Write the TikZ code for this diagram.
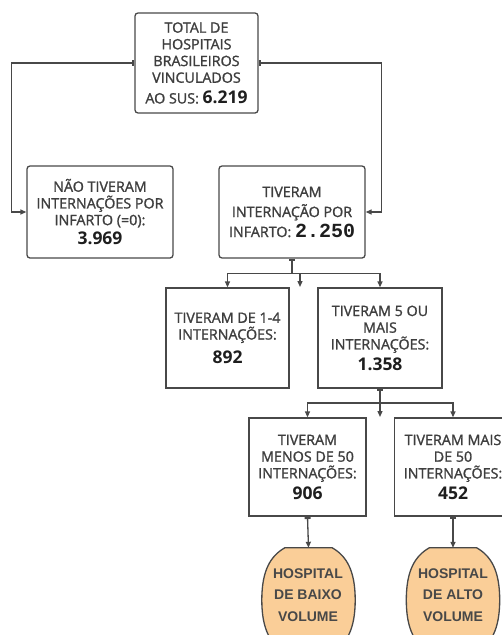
\documentclass[tikz,border=0pt]{standalone}
\usepackage{fontspec}
\setmainfont{Open Sans}
\newfontfamily\boxfont{Open Sans}[FakeBold=1.4]
\newfontfamily\monofont{Liberation Mono}
\newfontfamily\arialfont{Liberation Sans}
\usetikzlibrary{positioning,arrows.meta}
\definecolor{mygray}{RGB}{72,72,72}
\definecolor{mytext}{RGB}{62,62,62}
\definecolor{mynum}{RGB}{30,30,30}
\definecolor{myorange}{RGB}{250,206,152}

\newcommand{\bignum}[1]{{\normalfont\color{mynum}\fontsize{17.5}{17}\selectfont\bfseries #1}}

\begin{document}
\begin{tikzpicture}[x=1pt,y=-1pt,
  box/.style={draw=mygray,line width=1.3pt,rounded corners=3pt,align=center,
    text=mytext,font=\boxfont\fontsize{14.3}{16.7}\selectfont,inner sep=2pt},
  sbox/.style={box,sharp corners},
  link/.style={draw=mygray,line width=1.3pt,-{Triangle[length=6pt,width=5pt]}},
  tlink/.style={link,{Bar[width=6pt,line width=2.4pt]}-{Triangle[length=6pt,width=5pt]}},
  tline/.style={draw=mygray,line width=1.3pt,{Bar[width=6pt,line width=2.4pt]}-},
  volbox/.style={minimum width=93pt,minimum height=104pt,inner sep=0pt},
  volshape/.style={draw=mygray,line width=1.3pt,fill=myorange},
  voltext/.style={align=center,text=mygray,font=\arialfont\bfseries\fontsize{14}{21.5}\selectfont}]

  \useasboundingbox (0,0) rectangle (502,635);
  \clip (0,0) rectangle (502,635);

  \node[box,minimum width=123pt,minimum height=100pt] (total) at (196.5,63)
    {TOTAL DE\\HOSPITAIS\\BRASILEIROS\\VINCULADOS\\[4pt]AO SUS: \bignum{6.219}};

  \node[box,minimum width=146pt,minimum height=92pt] (nao) at (100,212)
    {NÃO TIVERAM\\INTERNAÇÕES POR\\INFARTO (=0):\\[3pt]\bignum{3.969}};
  \node[box,minimum width=146pt,minimum height=92pt,font=\boxfont\fontsize{14.3}{20}\selectfont] (sim) at (292,212)
    {TIVERAM\\INTERNAÇÃO POR\\INFARTO: {\color{mynum}\monofont\bfseries\fontsize{20}{20}\selectfont 2.250}};

  \node[sbox,minimum width=123pt,minimum height=100pt] (um) at (227.5,338)
    {TIVERAM DE 1-4\\INTERNAÇÕES:\\[7pt]\bignum{892}};
  \node[sbox,minimum width=124pt,minimum height=100pt] (cinco) at (380,338)
    {TIVERAM 5 OU\\MAIS\\INTERNAÇÕES:\\[4pt]\bignum{1.358}};

  \node[sbox,minimum width=117pt,minimum height=98pt] (menos) at (307.5,467)
    {TIVERAM\\MENOS DE 50\\INTERNAÇÕES:\\[4pt]\bignum{906}};
  \node[sbox,minimum width=117pt,minimum height=98pt] (mais) at (453,467)
    {TIVERAM MAIS\\DE 50\\INTERNAÇÕES:\\[4pt]\bignum{452}};

  % volume classes
  \node[volbox] (baixo) at (308.5,600) {};
  \node[volbox] (alto) at (453,600) {};
  \foreach \v in {baixo,alto}
    \draw[volshape] ([xshift=23pt]\v.north west) -- ([xshift=-23pt]\v.north east)
      .. controls +(14,8) and +(0,-30) .. (\v.east)
      .. controls +(0,30) and +(14,-8) .. ([xshift=-23pt]\v.south east)
      -- ([xshift=23pt]\v.south west)
      .. controls +(-14,-8) and +(0,30) .. (\v.west)
      .. controls +(0,-30) and +(-14,8) .. ([xshift=23pt]\v.north west) -- cycle;
  \node[voltext] (baixotxt) at (308,595) {HOSPITAL\\DE BAIXO\\VOLUME};
  \node[voltext] (altotxt) at (453,595) {HOSPITAL\\DE ALTO\\VOLUME};

  % top split
  \draw[tlink] (total.west) -| ([xshift=-15pt]nao.west) -- (nao.west);
  \draw[tlink] (total.east) -| ([xshift=16pt]sim.east) -- (sim.east);

  % first level
  \coordinate (split1) at (292,273.5);
  \coordinate (loose1) at (300,287);
  \draw[tline] (sim.south) -- (split1);
  \draw[link] (split1) -| (um.north);
  \draw[link] (split1) -| (cinco.north);
  \draw[link] (split1 -| loose1) -- (loose1);

  % second level
  \coordinate (split2) at (380,403);
  \coordinate (loose2) at (380,417);
  \draw[tline] (cinco.south) -- (split2);
  \draw[link] (split2) -| (menos.north);
  \draw[link] (split2) -| (mais.north);
  \draw[link] (split2) -- (loose2);

  % leaves
  \draw[tlink] (menos.south) -- (baixo.north);
  \draw[tlink] (mais.south) -- (alto.north);
\end{tikzpicture}
\end{document}
